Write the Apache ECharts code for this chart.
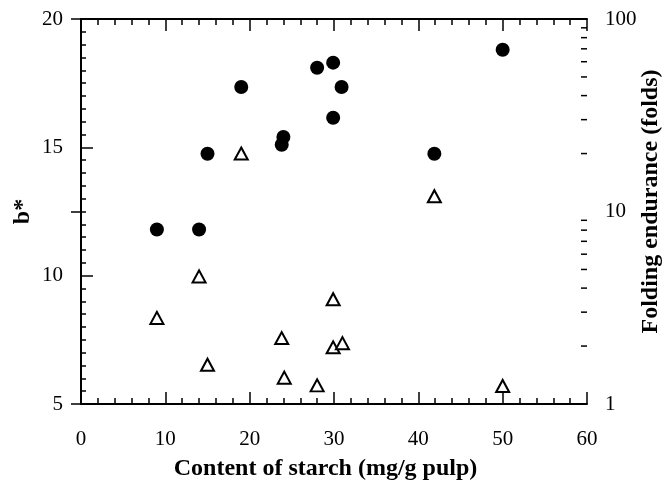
<!DOCTYPE html>
<html>
<head>
<meta charset="utf-8">
<script src="https://cdn.jsdelivr.net/npm/echarts@6/dist/echarts.min.js"></script>
<style>
  html, body { margin: 0; padding: 0; background: #fff; }
  #chart { width: 663px; height: 487px; }
</style>
</head>
<body>
<div id="chart"></div>
<script>
// b* (left axis) vs starch content
var starchB = [9, 14, 15, 19, 23.8, 24, 28, 29.9, 30.9, 29.9, 41.9, 50];
var bStar = [11.8, 11.8, 14.75, 17.35, 15.1, 15.4, 18.1, 18.3, 17.35, 16.15, 14.75, 18.8];

// folding endurance (right, log axis) vs starch content
var starchF = [9, 14, 15, 19, 23.8, 24.1, 28, 29.9, 29.9, 31, 41.9, 50];
var folds = [2.8, 4.6, 1.6, 20, 2.2, 1.37, 1.25, 3.5, 1.97, 2.07, 12, 1.24];

// minor ticks of the log axis
var logMinor = [2, 3, 4, 5, 6, 7, 8, 9, 20, 30, 40, 50, 60, 70, 80, 90];

var font = '"Liberation Serif", "DejaVu Serif", serif';

var chart = echarts.init(document.getElementById('chart'));

var lineStyle = { color: '#000', width: 2 };
var tickStyle = { color: '#000', width: 1.5 };

var option = {
  animation: false,
  grid: { left: 81, right: 76, top: 19, bottom: 83, containLabel: false, outerBoundsMode: 'none' },
  xAxis: [
    {
      type: 'value', min: 0, max: 60, interval: 10,
      position: 'bottom',
      name: 'Content of starch (mg/g pulp)',
      nameLocation: 'middle', nameGap: 53, nameMoveOverlap: false,
      nameTextStyle: { fontFamily: font, fontWeight: 'bold', fontSize: 24, color: '#000', padding: [0, 17, 0, 0] },
      axisLine: { lineStyle: lineStyle },
      axisTick: { inside: true, length: 12, lineStyle: tickStyle },
      minorTick: { show: true, splitNumber: 5, length: 6, lineStyle: tickStyle },
      axisLabel: { margin: 25, fontFamily: font, fontSize: 21, color: '#000' },
      splitLine: { show: false }
    },
    {
      type: 'value', min: 0, max: 60, interval: 10,
      position: 'top',
      axisLine: { lineStyle: lineStyle },
      axisTick: { inside: true, length: 12, lineStyle: tickStyle },
      minorTick: { show: true, splitNumber: 5, length: 6, lineStyle: tickStyle },
      axisLabel: { show: false },
      splitLine: { show: false }
    }
  ],
  yAxis: [
    {
      type: 'value', min: 5, max: 20, interval: 5,
      position: 'left',
      name: 'b*',
      nameLocation: 'middle', nameGap: 46, nameRotate: 90, nameMoveOverlap: false,
      nameTextStyle: { fontFamily: font, fontWeight: 'bold', fontSize: 24, color: '#000' },
      axisLine: { lineStyle: lineStyle },
      axisTick: { inside: true, length: 12, lineStyle: tickStyle },
      minorTick: { show: true, splitNumber: 10, length: 5, lineStyle: tickStyle },
      axisLabel: { margin: 18, fontFamily: font, fontSize: 21, color: '#000' },
      splitLine: { show: false }
    },
    {
      type: 'log', logBase: 10, min: 1, max: 100,
      position: 'right',
      name: 'Folding endurance (folds)',
      nameLocation: 'middle', nameGap: 52, nameRotate: 90, nameMoveOverlap: false,
      nameTextStyle: { fontFamily: font, fontWeight: 'bold', fontSize: 24, color: '#000', padding: [0, 0, 0, 20] },
      axisLine: { lineStyle: lineStyle },
      axisTick: { inside: true, length: 10, lineStyle: tickStyle },
      axisLabel: { margin: 18, fontFamily: font, fontSize: 21, color: '#000' },
      splitLine: { show: false }
    }
  ],
  series: [
    {
      name: 'b*',
      type: 'scatter',
      xAxisIndex: 0, yAxisIndex: 0,
      symbol: 'circle', symbolSize: 14,
      itemStyle: { color: '#000', opacity: 1 },
      data: starchB.map(function (x, i) { return [x, bStar[i]]; })
    },
    {
      name: 'Folding endurance',
      type: 'scatter',
      xAxisIndex: 0, yAxisIndex: 1,
      symbol: 'triangle', symbolSize: [13, 12],
      itemStyle: { color: '#fff', borderColor: '#000', borderWidth: 2, opacity: 1 },
      data: starchF.map(function (x, i) { return [x, folds[i]]; })
    },
    {
      // minor ticks for the log axis
      type: 'custom',
      xAxisIndex: 0, yAxisIndex: 1,
      silent: true,
      clip: false,
      renderItem: function (params, api) {
        var p = api.coord([api.value(0), api.value(1)]);
        return {
          type: 'line',
          shape: { x1: p[0], y1: p[1], x2: p[0] - 6, y2: p[1] },
          style: { stroke: '#000', lineWidth: 1.5 }
        };
      },
      data: logMinor.map(function (v) { return [60, v]; })
    }
  ]
};

chart.setOption(option);
</script>
</body>
</html>
